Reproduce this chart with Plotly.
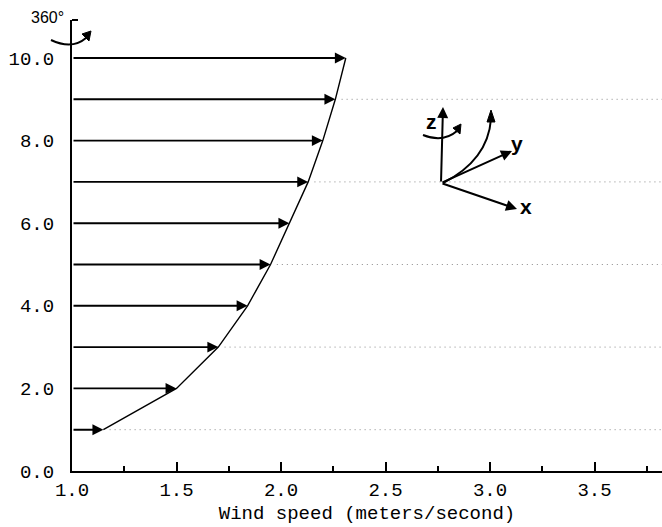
import plotly.graph_objects as go

# ---- data ----
heights = [1, 2, 3, 4, 5, 6, 7, 8, 9, 10]
speeds = [1.15, 1.50, 1.70, 1.84, 1.95, 2.04, 2.13, 2.20, 2.26, 2.31]
dotted_heights = [1, 3, 5, 7, 9]
x_ticks = [1.0, 1.5, 2.0, 2.5, 3.0, 3.5]
y_ticks = [0, 2, 4, 6, 8, 10]
y_tick_labels = ["0.0", "2.0", "4.0", "6.0", "8.0", "10.0"]

W, H = 662, 527
ML, MR, MT, MB = 72, 0, 20, 56
PW, PH = W - ML - MR, H - MT - MB
XU = 209.0   # px per unit
YU = 41.3
XMAX = 1.0 + PW / XU
YMAX = PH / YU

def px(xp):  # pixel -> paper x
    return (xp - ML) / PW

def py(yp):  # pixel -> paper y
    return (H - MB - yp) / PH

fig = go.Figure()

# profile line through arrow tips
fig.add_trace(go.Scatter(x=speeds, y=heights, mode="lines",
                         line=dict(color="black", width=1.4),
                         hoverinfo="skip", showlegend=False))

# dotted guide lines
for h in dotted_heights:
    s = speeds[heights.index(h)]
    fig.add_trace(go.Scatter(x=[s + 0.03, XMAX], y=[h, h], mode="lines",
                             line=dict(color="#8a8a8a", width=1, dash="1px,4px"),
                             hoverinfo="skip", showlegend=False))

annotations = []
# wind arrows
for h, s in zip(heights, speeds):
    annotations.append(dict(x=s, y=h, ax=1.0, ay=h, xref="x", yref="y",
                            axref="x", ayref="y", text="", showarrow=True,
                            arrowhead=2, arrowsize=1.15, arrowwidth=1.9,
                            arrowcolor="black", standoff=0))

# coordinate icon straight arrows (pixel positions)
ox, oy = 441, 183
for tx, ty in [(443, 107), (517, 209), (512, 151)]:
    annotations.append(dict(x=px(tx), y=py(ty), xref="paper", yref="paper",
                            ax=ox - tx, ay=oy - ty, text="", showarrow=True,
                            arrowhead=2, arrowsize=1.1, arrowwidth=2,
                            arrowcolor="black", standoff=0))

for label, lx, ly in [("z", 431, 121), ("x", 526, 206), ("y", 517, 143)]:
    annotations.append(dict(x=px(lx), y=py(ly), xref="paper", yref="paper",
                            xanchor="center", yanchor="middle",
                            text="<b>%s</b>" % label, showarrow=False,
                            font=dict(family="Liberation Sans", size=21, color="black")))

annotations.append(dict(x=px(47), y=py(17), xref="paper", yref="paper",
                        xanchor="center", yanchor="middle",
                        text="360°", showarrow=False,
                        font=dict(family="Liberation Sans", size=16, color="black")))

fig.update_layout(annotations=annotations)

def P(xp, yp):
    return "%.5f,%.5f" % (px(xp), py(yp))

shapes = []
# arcs
arcs = [
    ((51, 40), (72, 50), (86, 38)),
    ((423, 135), (443, 143), (457, 131)),
    ((443, 183), (488, 160), (491, 119)),
]
for a, c, b in arcs:
    shapes.append(dict(type="path", xref="paper", yref="paper",
                       path="M %s Q %s %s" % (P(*a), P(*c), P(*b)),
                       line=dict(color="black", width=2)))
# arrowheads
heads = [
    ((91, 31), (82, 34), (89, 41)),
    ((461, 124), (453, 128), (460, 134)),
    ((491, 110), (487, 122), (495, 122)),
]
for t, b1, b2 in heads:
    shapes.append(dict(type="path", xref="paper", yref="paper",
                       path="M %s L %s L %s Z" % (P(*t), P(*b1), P(*b2)),
                       fillcolor="black", line=dict(color="black", width=1)))
# small tick at top of y axis
shapes.append(dict(type="line", xref="paper", yref="paper",
                   x0=px(72), y0=py(20), x1=px(78), y1=py(20),
                   line=dict(color="black", width=2)))
fig.update_layout(shapes=shapes)

mono = dict(family="Liberation Mono", size=19, color="black")

fig.update_layout(
    width=W, height=H,
    margin=dict(l=ML, r=MR, t=MT, b=MB),
    paper_bgcolor="white", plot_bgcolor="white",
    xaxis=dict(range=[1.0, XMAX], showgrid=False, zeroline=False, automargin=False,
               showline=True, linecolor="black", linewidth=2,
               ticks="inside", ticklen=9, tickwidth=1.5, tickcolor="black",
               tickvals=x_ticks, tickformat=".1f", tickfont=mono,
               minor=dict(dtick=0.25, ticks="inside", ticklen=5, tickwidth=1.5,
                          tickcolor="black", showgrid=False),
               title=dict(text="Wind speed (meters/second)", font=mono, standoff=5)),
    yaxis=dict(range=[0, YMAX], showgrid=False, zeroline=False, automargin=False,
               showline=True, linecolor="black", linewidth=2,
               ticks="", tickvals=y_ticks, ticktext=y_tick_labels,
               tickfont=mono, ticklabelstandoff=12),
    showlegend=False,
)

fig.write_html("out.html", config={"displayModeBar": False},
               post_script="document.body.style.margin='0px';")
